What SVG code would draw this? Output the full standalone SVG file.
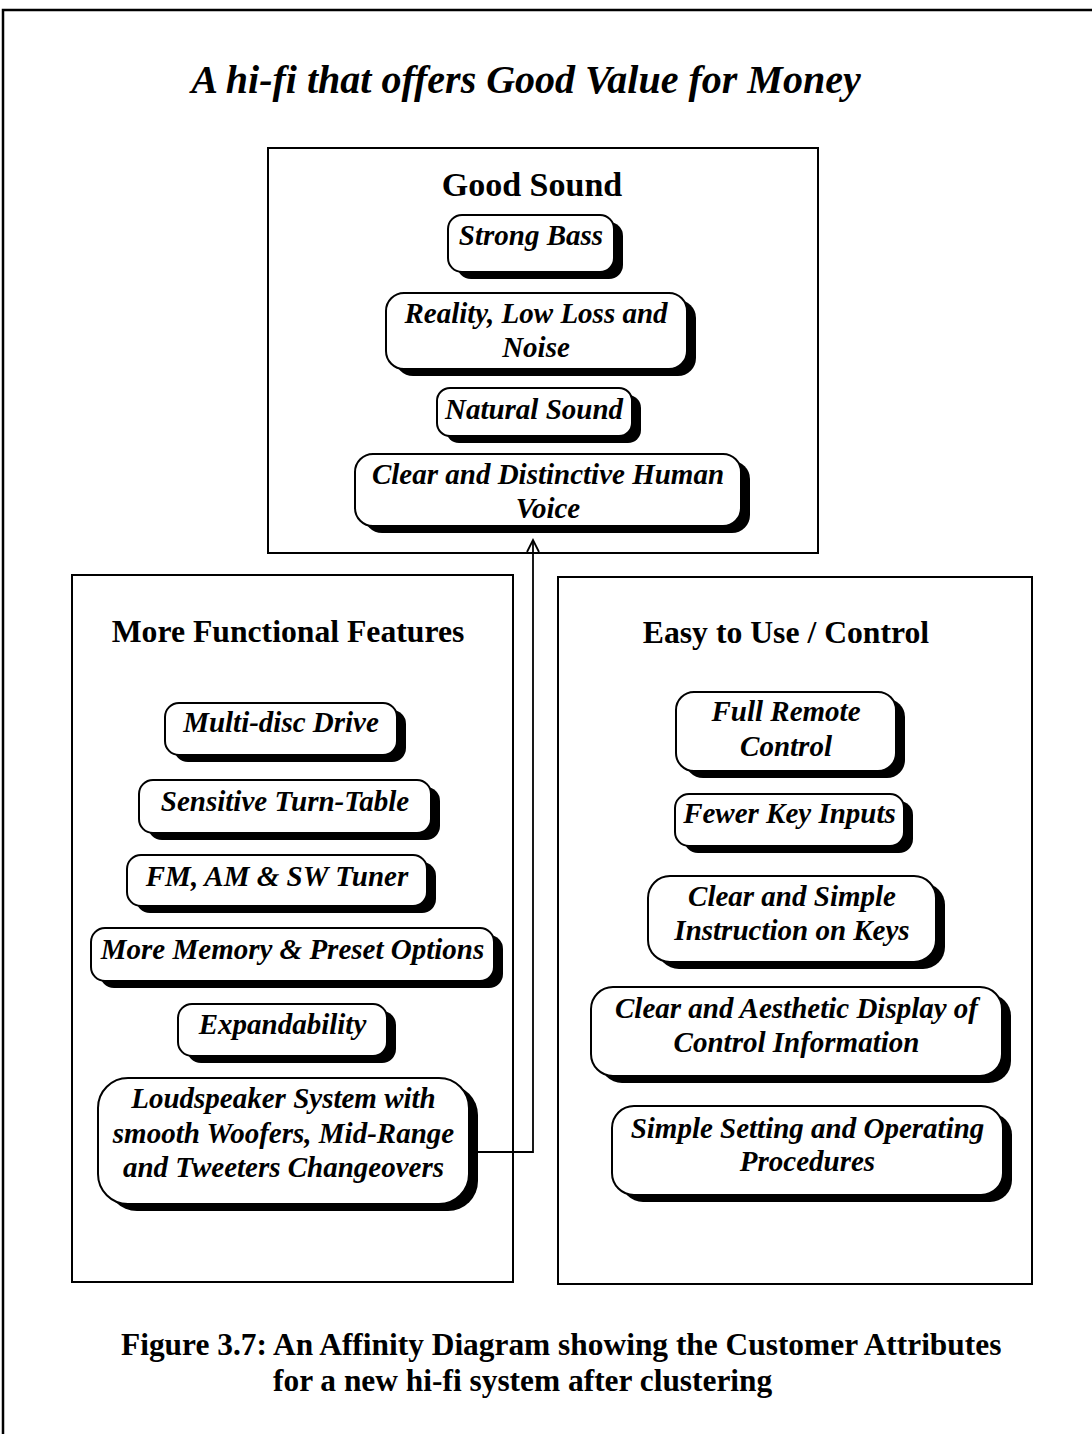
<svg xmlns="http://www.w3.org/2000/svg" width="1092" height="1434" viewBox="0 0 1092 1434">
  <style>
    .frame { fill: none; stroke: #000; stroke-width: 2.5; }
    .group { fill: none; stroke: #000; stroke-width: 2; }
    .shd { fill: #000; }
    .card { fill: #fff; stroke: #000; stroke-width: 2; }
    .title { font-family: "Liberation Serif", "Times New Roman", serif; font-weight: bold; font-style: italic; font-size: 40px; text-anchor: middle; fill: #000; }
    .head { font-family: "Liberation Serif", "Times New Roman", serif; font-weight: bold; font-size: 31.7px; text-anchor: middle; fill: #000; }
    .ct { font-family: "Liberation Serif", "Times New Roman", serif; font-weight: bold; font-style: italic; font-size: 29px; text-anchor: middle; fill: #000; }
    .cap { font-family: "Liberation Serif", "Times New Roman", serif; font-weight: bold; font-size: 31.4px; fill: #000; }
    .conn { fill: none; stroke: #000; stroke-width: 1.8; }
  </style>
  <defs>
    <marker id="open-arrow" viewBox="-14 -8 16 16" refX="0" refY="0" markerWidth="16" markerHeight="16" markerUnits="userSpaceOnUse" orient="auto">
      <path d="M-12,-6 L0,0 L-12,6" fill="none" stroke="#000" stroke-width="1.8"/>
    </marker>
  </defs>

  <rect width="1092" height="1434" fill="#fff"/>

  <!-- page frame: top and left rules -->
  <path class="frame" d="M3,1434 V10 H1092"/>

  <text class="title" x="526" y="93">A hi-fi that offers Good Value for Money</text>

  <!-- cluster: Good Sound -->
  <g id="good-sound">
    <rect class="group" x="268" y="148" width="550" height="405"/>
    <text class="head" x="532" y="196" style="font-size:34px">Good Sound</text>
  </g>
  <g id="strong-bass">
    <rect class="shd" x="457" y="222" width="166" height="57" rx="14"/>
    <rect class="card" x="448" y="215" width="166" height="57" rx="14"/>
    <text class="ct" x="531" y="245">Strong Bass</text>
  </g>
  <g id="reality">
    <rect class="shd" x="395" y="300" width="301" height="76" rx="18"/>
    <rect class="card" x="386" y="293" width="301" height="76" rx="18"/>
    <text class="ct" x="536" y="323">Reality, Low Loss and</text>
    <text class="ct" x="536" y="357">Noise</text>
  </g>
  <g id="natural-sound">
    <rect class="shd" x="446" y="395" width="195" height="48" rx="13"/>
    <rect class="card" x="437" y="388" width="195" height="48" rx="13"/>
    <text class="ct" x="534" y="419">Natural Sound</text>
  </g>
  <g id="human-voice">
    <rect class="shd" x="364" y="461" width="386" height="72" rx="18"/>
    <rect class="card" x="355" y="454" width="386" height="72" rx="18"/>
    <text class="ct" x="548" y="484">Clear and Distinctive Human</text>
    <text class="ct" x="548" y="518">Voice</text>
  </g>

  <!-- cluster: More Functional Features -->
  <g id="functional-features">
    <rect class="group" x="72" y="575" width="441" height="707"/>
    <text class="head" x="288" y="642">More Functional Features</text>
  </g>
  <g id="multi-disc">
    <rect class="shd" x="174" y="710" width="232" height="52" rx="14"/>
    <rect class="card" x="165" y="703" width="232" height="52" rx="14"/>
    <text class="ct" x="281" y="732">Multi-disc Drive</text>
  </g>
  <g id="turn-table">
    <rect class="shd" x="148" y="787" width="292" height="53" rx="14"/>
    <rect class="card" x="139" y="780" width="292" height="53" rx="14"/>
    <text class="ct" x="285" y="811">Sensitive Turn-Table</text>
  </g>
  <g id="tuner">
    <rect class="shd" x="136" y="862" width="300" height="51" rx="14"/>
    <rect class="card" x="127" y="855" width="300" height="51" rx="14"/>
    <text class="ct" x="277" y="886">FM, AM &amp; SW Tuner</text>
  </g>
  <g id="memory">
    <rect class="shd" x="100" y="935" width="403" height="53" rx="14"/>
    <rect class="card" x="91" y="928" width="403" height="53" rx="14"/>
    <text class="ct" x="292.5" y="959">More Memory &amp; Preset Options</text>
  </g>
  <g id="expandability">
    <rect class="shd" x="187" y="1011" width="209" height="52" rx="14"/>
    <rect class="card" x="178" y="1004" width="209" height="52" rx="14"/>
    <text class="ct" x="282.5" y="1034">Expandability</text>
  </g>
  <g id="loudspeaker">
    <rect class="shd" x="107" y="1085" width="371" height="126" rx="30"/>
    <rect class="card" x="98" y="1078" width="371" height="126" rx="30"/>
    <text class="ct" x="283.5" y="1108">Loudspeaker System with</text>
    <text class="ct" x="283.5" y="1143">smooth Woofers, Mid-Range</text>
    <text class="ct" x="283.5" y="1177">and Tweeters Changeovers</text>
  </g>

  <!-- cluster: Easy to Use / Control -->
  <g id="easy-to-use">
    <rect class="group" x="558" y="577" width="474" height="707"/>
    <text class="head" x="786" y="643">Easy to Use / Control</text>
  </g>
  <g id="remote">
    <rect class="shd" x="685" y="699" width="220" height="79" rx="18"/>
    <rect class="card" x="676" y="692" width="220" height="79" rx="18"/>
    <text class="ct" x="786" y="721">Full Remote</text>
    <text class="ct" x="786" y="756">Control</text>
  </g>
  <g id="key-inputs">
    <rect class="shd" x="684" y="801" width="229" height="52" rx="14"/>
    <rect class="card" x="675" y="794" width="229" height="52" rx="14"/>
    <text class="ct" x="789.5" y="823">Fewer Key Inputs</text>
  </g>
  <g id="key-instructions">
    <rect class="shd" x="657" y="883" width="288" height="86" rx="22"/>
    <rect class="card" x="648" y="876" width="288" height="86" rx="22"/>
    <text class="ct" x="792" y="906">Clear and Simple</text>
    <text class="ct" x="792" y="940">Instruction on Keys</text>
  </g>
  <g id="display">
    <rect class="shd" x="600" y="994" width="411" height="89" rx="22"/>
    <rect class="card" x="591" y="987" width="411" height="89" rx="22"/>
    <text class="ct" x="796.5" y="1018">Clear and Aesthetic Display of</text>
    <text class="ct" x="796.5" y="1052">Control Information</text>
  </g>
  <g id="procedures">
    <rect class="shd" x="621" y="1113" width="391" height="89" rx="22"/>
    <rect class="card" x="612" y="1106" width="391" height="89" rx="22"/>
    <text class="ct" x="807.5" y="1138">Simple Setting and Operating</text>
    <text class="ct" x="807.5" y="1171">Procedures</text>
  </g>

  <!-- link from the loudspeaker card up into the Good Sound cluster -->
  <g id="connectors">
    <path class="conn" d="M469,1152 H533 V540" marker-end="url(#open-arrow)"/>
  </g>

  <text class="cap" y="1355"><tspan x="121">Figure 3.7:</tspan><tspan x="273">An Affinity Diagram showing the Customer Attributes</tspan></text>
  <text class="cap" x="273" y="1391">for a new hi-fi system after clustering</text>
</svg>
